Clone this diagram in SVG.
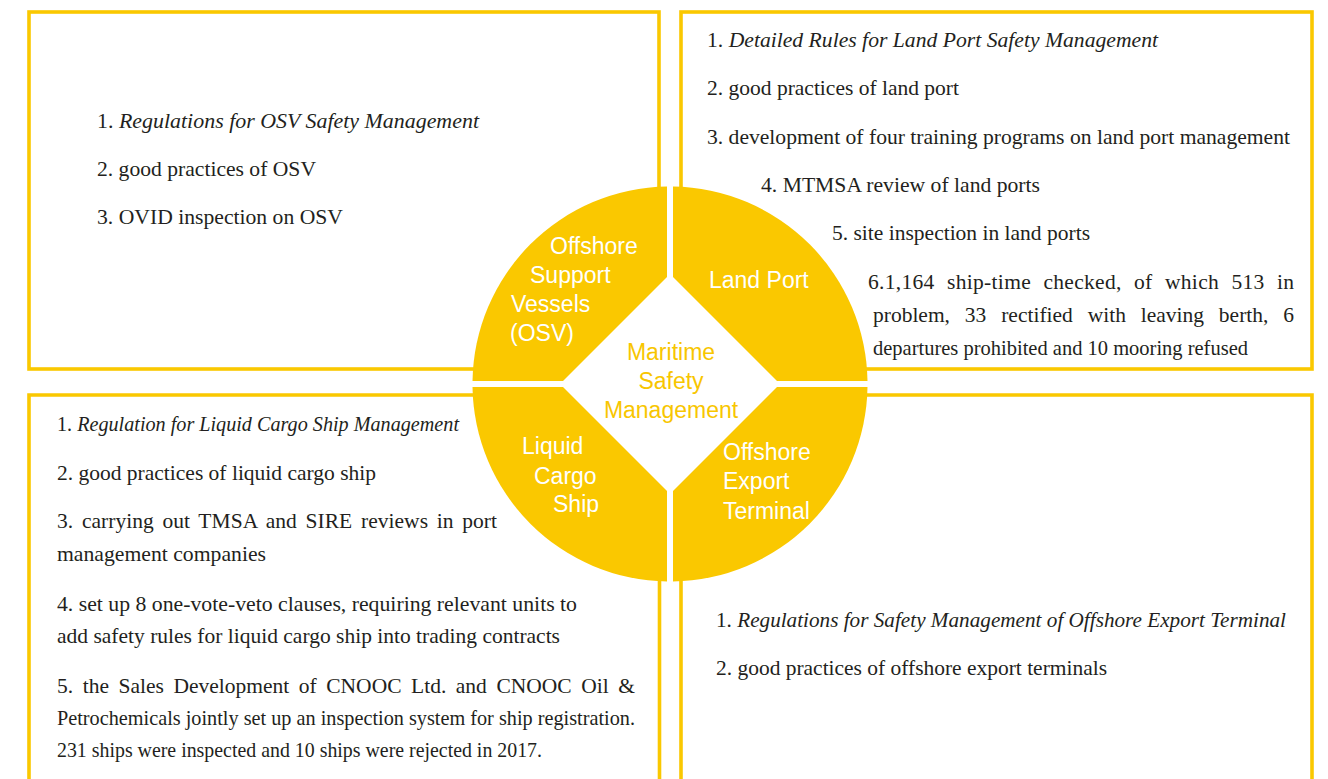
<svg xmlns="http://www.w3.org/2000/svg" width="1328" height="779" viewBox="0 0 1328 779">
<style>
.box{fill:none;stroke:#FAC800;stroke-width:3.6}
.q{fill:#FAC800}
.ql{font-family:"Liberation Sans",Arial,sans-serif;font-size:23px;fill:#ffffff}
.ct{font-family:"Liberation Sans",Arial,sans-serif;font-size:23px;fill:#F8C600;text-anchor:middle}
.t{font-family:"Liberation Serif","Times New Roman",serif;font-size:21.5px;fill:#231f20}
.i{font-style:italic}
</style>
<rect width="1328" height="779" fill="#ffffff"/>
<g id="box-osv">
<rect class="box" x="29" y="12" width="630" height="357"/>
<text class="t" x="97" y="128" textLength="382" lengthAdjust="spacingAndGlyphs">1. <tspan class="i">Regulations for OSV Safety Management</tspan></text>
<text class="t" x="97" y="176" textLength="219" lengthAdjust="spacingAndGlyphs">2. good practices of OSV</text>
<text class="t" x="97" y="224" textLength="246" lengthAdjust="spacingAndGlyphs">3. OVID inspection on OSV</text>
</g>
<g id="box-land-port">
<rect class="box" x="681" y="12" width="631" height="357"/>
<text class="t" x="707" y="47" textLength="451" lengthAdjust="spacingAndGlyphs">1. <tspan class="i">Detailed Rules for Land Port Safety Management</tspan></text>
<text class="t" x="707" y="95" textLength="252" lengthAdjust="spacingAndGlyphs">2. good practices of land port</text>
<text class="t" x="707" y="144" textLength="583" lengthAdjust="spacingAndGlyphs">3. development of four training programs on land port management</text>
<text class="t" x="761" y="192" textLength="279" lengthAdjust="spacingAndGlyphs">4. MTMSA review of land ports</text>
<text class="t" x="832" y="240" textLength="258" lengthAdjust="spacingAndGlyphs">5. site inspection in land ports</text>
<text class="t" x="868" y="289" word-spacing="6.7" textLength="426" lengthAdjust="spacing">6.1,164 ship-time checked, of which 513 in</text>
<text class="t" x="873" y="322" word-spacing="9.5" textLength="421" lengthAdjust="spacing">problem, 33 rectified with leaving berth, 6</text>
<text class="t" x="873" y="355" textLength="375" lengthAdjust="spacingAndGlyphs">departures prohibited and 10 mooring refused</text>
</g>
<g id="box-liquid-cargo">
<path class="box" d="M29,800 V395 H659.5 V800"/>
<text class="t" x="57" y="431" textLength="402" lengthAdjust="spacingAndGlyphs">1. <tspan class="i">Regulation for Liquid Cargo Ship Management</tspan></text>
<text class="t" x="57" y="480" textLength="319" lengthAdjust="spacingAndGlyphs">2. good practices of liquid cargo ship</text>
<text class="t" x="57" y="528" word-spacing="3.3" textLength="440" lengthAdjust="spacing">3. carrying out TMSA and SIRE reviews in port</text>
<text class="t" x="57" y="561" textLength="209" lengthAdjust="spacingAndGlyphs">management companies</text>
<text class="t" x="57" y="611" textLength="520" lengthAdjust="spacingAndGlyphs">4. set up 8 one-vote-veto clauses, requiring relevant units to</text>
<text class="t" x="57" y="643" textLength="503" lengthAdjust="spacingAndGlyphs">add safety rules for liquid cargo ship into trading contracts</text>
<text class="t" x="57" y="693" word-spacing="4.2" textLength="578" lengthAdjust="spacing">5. the Sales Development of CNOOC Ltd. and CNOOC Oil &amp;</text>
<text class="t" x="57" y="725" textLength="578" lengthAdjust="spacingAndGlyphs">Petrochemicals jointly set up an inspection system for ship registration.</text>
<text class="t" x="57" y="757" textLength="485" lengthAdjust="spacingAndGlyphs">231 ships were inspected and 10 ships were rejected in 2017.</text>
</g>
<g id="box-offshore-export">
<path class="box" d="M681,800 V395 H1312 V800"/>
<text class="t" x="716" y="627" textLength="570" lengthAdjust="spacingAndGlyphs">1. <tspan class="i">Regulations for Safety Management of Offshore Export Terminal</tspan></text>
<text class="t" x="716" y="675" textLength="391" lengthAdjust="spacingAndGlyphs">2. good practices of offshore export terminals</text>
</g>
<g id="center-hub">
<polygon points="670,272 782,384 670,496 558,384" fill="#ffffff"/>
<text class="ct" x="671" y="360">Maritime</text>
<text class="ct" x="671" y="389">Safety</text>
<text class="ct" x="671" y="418">Management</text>
</g>
<g id="quad-osv">
<path class="q" d="M667,186.5 L667,277 L563,381 L472.5,381 A197.5,197.5 0 0 1 667,186.5 Z"/>
<text class="ql" x="550" y="254">Offshore</text>
<text class="ql" x="530" y="283">Support</text>
<text class="ql" x="511" y="312">Vessels</text>
<text class="ql" x="510" y="341">(OSV)</text>
</g>
<g id="quad-land-port">
<path class="q" d="M673,186.5 A197.5,197.5 0 0 1 867.5,381 L777,381 L673,277 Z"/>
<text class="ql" x="709" y="288">Land Port</text>
</g>
<g id="quad-liquid-cargo">
<path class="q" d="M667,581.5 A197.5,197.5 0 0 1 472.5,387 L563,387 L667,491 Z"/>
<text class="ql" x="522" y="454">Liquid</text>
<text class="ql" x="534" y="484">Cargo</text>
<text class="ql" x="553" y="512">Ship</text>
</g>
<g id="quad-offshore-export">
<path class="q" d="M867.5,387 A197.5,197.5 0 0 1 673,581.5 L673,491 L777,387 Z"/>
<text class="ql" x="723" y="460">Offshore</text>
<text class="ql" x="723" y="489">Export</text>
<text class="ql" x="723" y="519">Terminal</text>
</g>
<g id="connectors"/>
</svg>
